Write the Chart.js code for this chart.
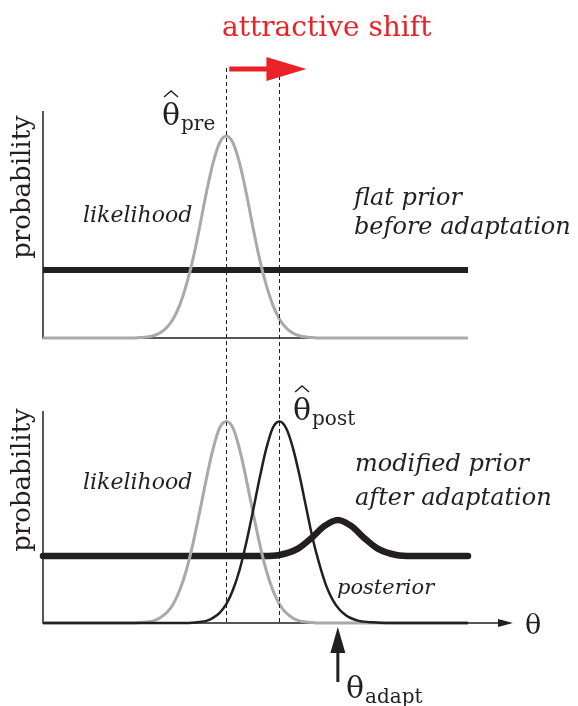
<!DOCTYPE html>
<html>
<head>
<meta charset="utf-8">
<script src="https://cdn.jsdelivr.net/npm/chart.js@4.4.1/dist/chart.umd.min.js"></script>
<style>
  body{margin:0;background:#fff;}
  #wrap{position:relative;width:578px;height:706px;overflow:hidden;}
  canvas{position:absolute;left:0;}
  #top{top:0;}
  #bottom{top:380px;}
</style>
</head>
<body>
<div id="wrap">
  <canvas id="top" width="578" height="380"></canvas>
  <canvas id="bottom" width="578" height="326"></canvas>
</div>
<script>
// theta axis range and the three marked estimates
const thetaMin = -3.45, thetaMax = 4.55;
const thetaPre = 0, thetaPost = 1, thetaAdapt = 2.1;

// likelihood (same shape in both panels)
const likeX = [-3.45, -2.0, -1.75, -1.625, -1.5, -1.375, -1.25, -1.125, -1.0, -0.875, -0.75, -0.625, -0.5, -0.375, -0.25, -0.125,
  0, 0.125, 0.25, 0.375, 0.5, 0.625, 0.75, 0.875, 1.0, 1.125, 1.25, 1.375, 1.5, 1.625, 1.75, 2.0, 4.55];
const likeTopY = [0, 0, 0, 0.002, 0.004, 0.01, 0.022, 0.045, 0.084, 0.146, 0.235, 0.35, 0.49, 0.64, 0.77, 0.86,
  0.89, 0.86, 0.77, 0.64, 0.49, 0.35, 0.235, 0.146, 0.084, 0.045, 0.022, 0.01, 0.004, 0.002, 0, 0, 0];
const likeBottomY = [0, 0, 0, 0.002, 0.005, 0.01, 0.024, 0.048, 0.089, 0.156, 0.25, 0.377, 0.525, 0.68, 0.82, 0.92,
  0.95, 0.92, 0.82, 0.68, 0.525, 0.377, 0.25, 0.156, 0.089, 0.048, 0.024, 0.01, 0.005, 0.002, 0, 0, 0];

// flat prior before adaptation
const priorFlatX = [-3.45, 4.55];
const priorFlatY = [0.30, 0.30];

// modified prior after adaptation
const priorX = [-3.45, 0.7, 1.0, 1.35, 1.6, 1.85, 2.1, 2.35, 2.6, 2.85, 3.2, 3.5, 4.55];
const priorY = [0.316, 0.316, 0.321, 0.351, 0.40, 0.458, 0.486, 0.458, 0.40, 0.351, 0.321, 0.316, 0.316];

// posterior
const postX = [-3.45, -0.75, -0.5, -0.375, -0.25, -0.125, 0, 0.125, 0.25, 0.375, 0.5, 0.625, 0.75, 0.875,
  1.0, 1.125, 1.25, 1.375, 1.5, 1.625, 1.75, 1.875, 2.0, 2.125, 2.25, 2.375, 2.5, 2.75, 3.0, 4.55];
const postY = [0, 0, 0.005, 0.01, 0.024, 0.048, 0.089, 0.156, 0.25, 0.377, 0.525, 0.68, 0.82, 0.92,
  0.95, 0.92, 0.83, 0.70, 0.55, 0.40, 0.28, 0.18, 0.11, 0.065, 0.037, 0.02, 0.01, 0.003, 0, 0];

const ink = '#231f20', gray = '#a7a9ab', red = '#ea2227';
const serif = '"DejaVu Serif"';

const pairs = (xs, ys) => xs.map((x, i) => ({x: x, y: ys[i]}));

function drawAxes(chart, arrow){
  const ctx = chart.ctx, a = chart.chartArea;
  ctx.save();
  ctx.strokeStyle = ink; ctx.fillStyle = ink; ctx.lineWidth = 1.5;
  ctx.beginPath();
  ctx.moveTo(a.left, a.top); ctx.lineTo(a.left, a.bottom);
  ctx.lineTo(arrow ? a.right + 32 : a.right, a.bottom);
  ctx.stroke();
  if(arrow){
    ctx.beginPath();
    ctx.moveTo(a.right + 30, a.bottom - 4);
    ctx.lineTo(a.right + 45, a.bottom);
    ctx.lineTo(a.right + 30, a.bottom + 4);
    ctx.closePath(); ctx.fill();
  }
  ctx.restore();
}

function dashed(ctx, x, y0, y1){
  ctx.save();
  ctx.strokeStyle = ink; ctx.lineWidth = 1; ctx.setLineDash([4, 3]);
  ctx.beginPath(); ctx.moveTo(Math.round(x) + 0.5, y0); ctx.lineTo(Math.round(x) + 0.5, y1); ctx.stroke();
  ctx.restore();
}

function label(ctx, txt, x, y, font, color){
  ctx.font = font; ctx.fillStyle = color || ink;
  ctx.textAlign = 'left'; ctx.textBaseline = 'alphabetic';
  ctx.fillText(txt, x, y);
}

function thetaLabel(ctx, x, y, sub, hat){
  label(ctx, 'θ', x, y, '30px ' + serif);
  const w = ctx.measureText('θ').width;
  label(ctx, sub, x + w + 1, y + 5, '20px ' + serif);
  if(hat){
    const cx = x + w / 2;
    ctx.save();
    ctx.strokeStyle = ink; ctx.lineWidth = 1.4;
    ctx.beginPath(); ctx.moveTo(cx - 7, y - 28); ctx.lineTo(cx, y - 34); ctx.lineTo(cx + 7, y - 28); ctx.stroke();
    ctx.restore();
  }
}

function yTitle(ctx, cy){
  ctx.save();
  ctx.translate(30, cy); ctx.rotate(-Math.PI / 2);
  ctx.font = '26px ' + serif; ctx.fillStyle = ink;
  ctx.textAlign = 'center'; ctx.textBaseline = 'alphabetic';
  ctx.fillText('probability', 0, 0);
  ctx.restore();
}

const topDecor = {
  id: 'topDecor',
  beforeDatasetsDraw(chart){ drawAxes(chart, false); },
  afterDatasetsDraw(chart){
    const ctx = chart.ctx, xs = chart.scales.x;
    const xPre = xs.getPixelForValue(thetaPre), xPost = xs.getPixelForValue(thetaPost);
    dashed(ctx, xPre, 68, chart.height);
    dashed(ctx, xPost, 76, chart.height);

    // attractive shift arrow
    ctx.save();
    ctx.strokeStyle = red; ctx.fillStyle = red; ctx.lineWidth = 5;
    ctx.beginPath(); ctx.moveTo(xPre + 3, 69); ctx.lineTo(xPost - 10, 69); ctx.stroke();
    ctx.beginPath();
    ctx.moveTo(xPost - 13, 57); ctx.lineTo(xPost + 27, 69); ctx.lineTo(xPost - 13, 81);
    ctx.closePath(); ctx.fill();
    ctx.restore();

    label(ctx, 'attractive shift', 222, 36, '28px ' + serif, red);
    yTitle(ctx, 187);
    label(ctx, 'likelihood', 83, 222, 'italic 22px ' + serif);
    label(ctx, 'flat prior', 354, 205, 'italic 24px ' + serif);
    label(ctx, 'before adaptation', 354, 234, 'italic 24px ' + serif);
    thetaLabel(ctx, 162, 125, 'pre', true);
  }
};

const bottomDecor = {
  id: 'bottomDecor',
  beforeDatasetsDraw(chart){ drawAxes(chart, true); },
  afterDatasetsDraw(chart){
    const ctx = chart.ctx, xs = chart.scales.x, a = chart.chartArea;
    const xPre = xs.getPixelForValue(thetaPre), xPost = xs.getPixelForValue(thetaPost);
    const xAd = xs.getPixelForValue(thetaAdapt);
    dashed(ctx, xPre, 0, a.bottom);
    dashed(ctx, xPost, 0, a.bottom);

    // adaptor arrow
    ctx.save();
    ctx.strokeStyle = ink; ctx.fillStyle = ink; ctx.lineWidth = 3;
    ctx.beginPath(); ctx.moveTo(xAd, a.bottom + 59); ctx.lineTo(xAd, a.bottom + 26); ctx.stroke();
    ctx.beginPath();
    ctx.moveTo(xAd - 7.5, a.bottom + 30); ctx.lineTo(xAd, a.bottom + 4); ctx.lineTo(xAd + 7.5, a.bottom + 30);
    ctx.closePath(); ctx.fill();
    ctx.restore();

    yTitle(ctx, 100);
    label(ctx, 'likelihood', 83, 109, 'italic 22px ' + serif);
    label(ctx, 'modified prior', 355, 91, 'italic 24px ' + serif);
    label(ctx, 'after adaptation', 355, 125, 'italic 24px ' + serif);
    label(ctx, 'posterior', 337, 214, 'italic 21px ' + serif);
    thetaLabel(ctx, 293, 40, 'post', true);
    thetaLabel(ctx, 346, 318, 'adapt', false);
    label(ctx, 'θ', 525, 254, '27px ' + serif);
  }
};

function panelChart(id, datasets, padding, decor){
  return new Chart(document.getElementById(id), {
    type: 'line',
    data: {datasets: datasets},
    options: {
      responsive: false,
      animation: false,
      devicePixelRatio: 1,
      layout: {padding: padding},
      plugins: {legend: {display: false}, tooltip: {enabled: false}},
      elements: {point: {radius: 0}, line: {cubicInterpolationMode: 'monotone'}},
      scales: {
        x: {type: 'linear', min: thetaMin, max: thetaMax, display: false},
        y: {min: 0, max: 1, display: false}
      }
    },
    plugins: [decor]
  });
}

panelChart('top', [
  {data: pairs(likeX, likeTopY), borderColor: gray, borderWidth: 3, clip: false},
  {data: pairs(priorFlatX, priorFlatY), borderColor: ink, borderWidth: 6, clip: false}
], {left: 43, right: 110, top: 111, bottom: 42}, topDecor);

panelChart('bottom', [
  {data: pairs(postX, postY), borderColor: ink, borderWidth: 2.5, clip: false},
  {data: pairs(likeX, likeBottomY), borderColor: gray, borderWidth: 3, clip: false},
  {data: pairs(priorX, priorY), borderColor: ink, borderWidth: 6.5, borderCapStyle: 'round', clip: false}
], {left: 43, right: 110, top: 31, bottom: 83}, bottomDecor);
</script>
</body>
</html>
